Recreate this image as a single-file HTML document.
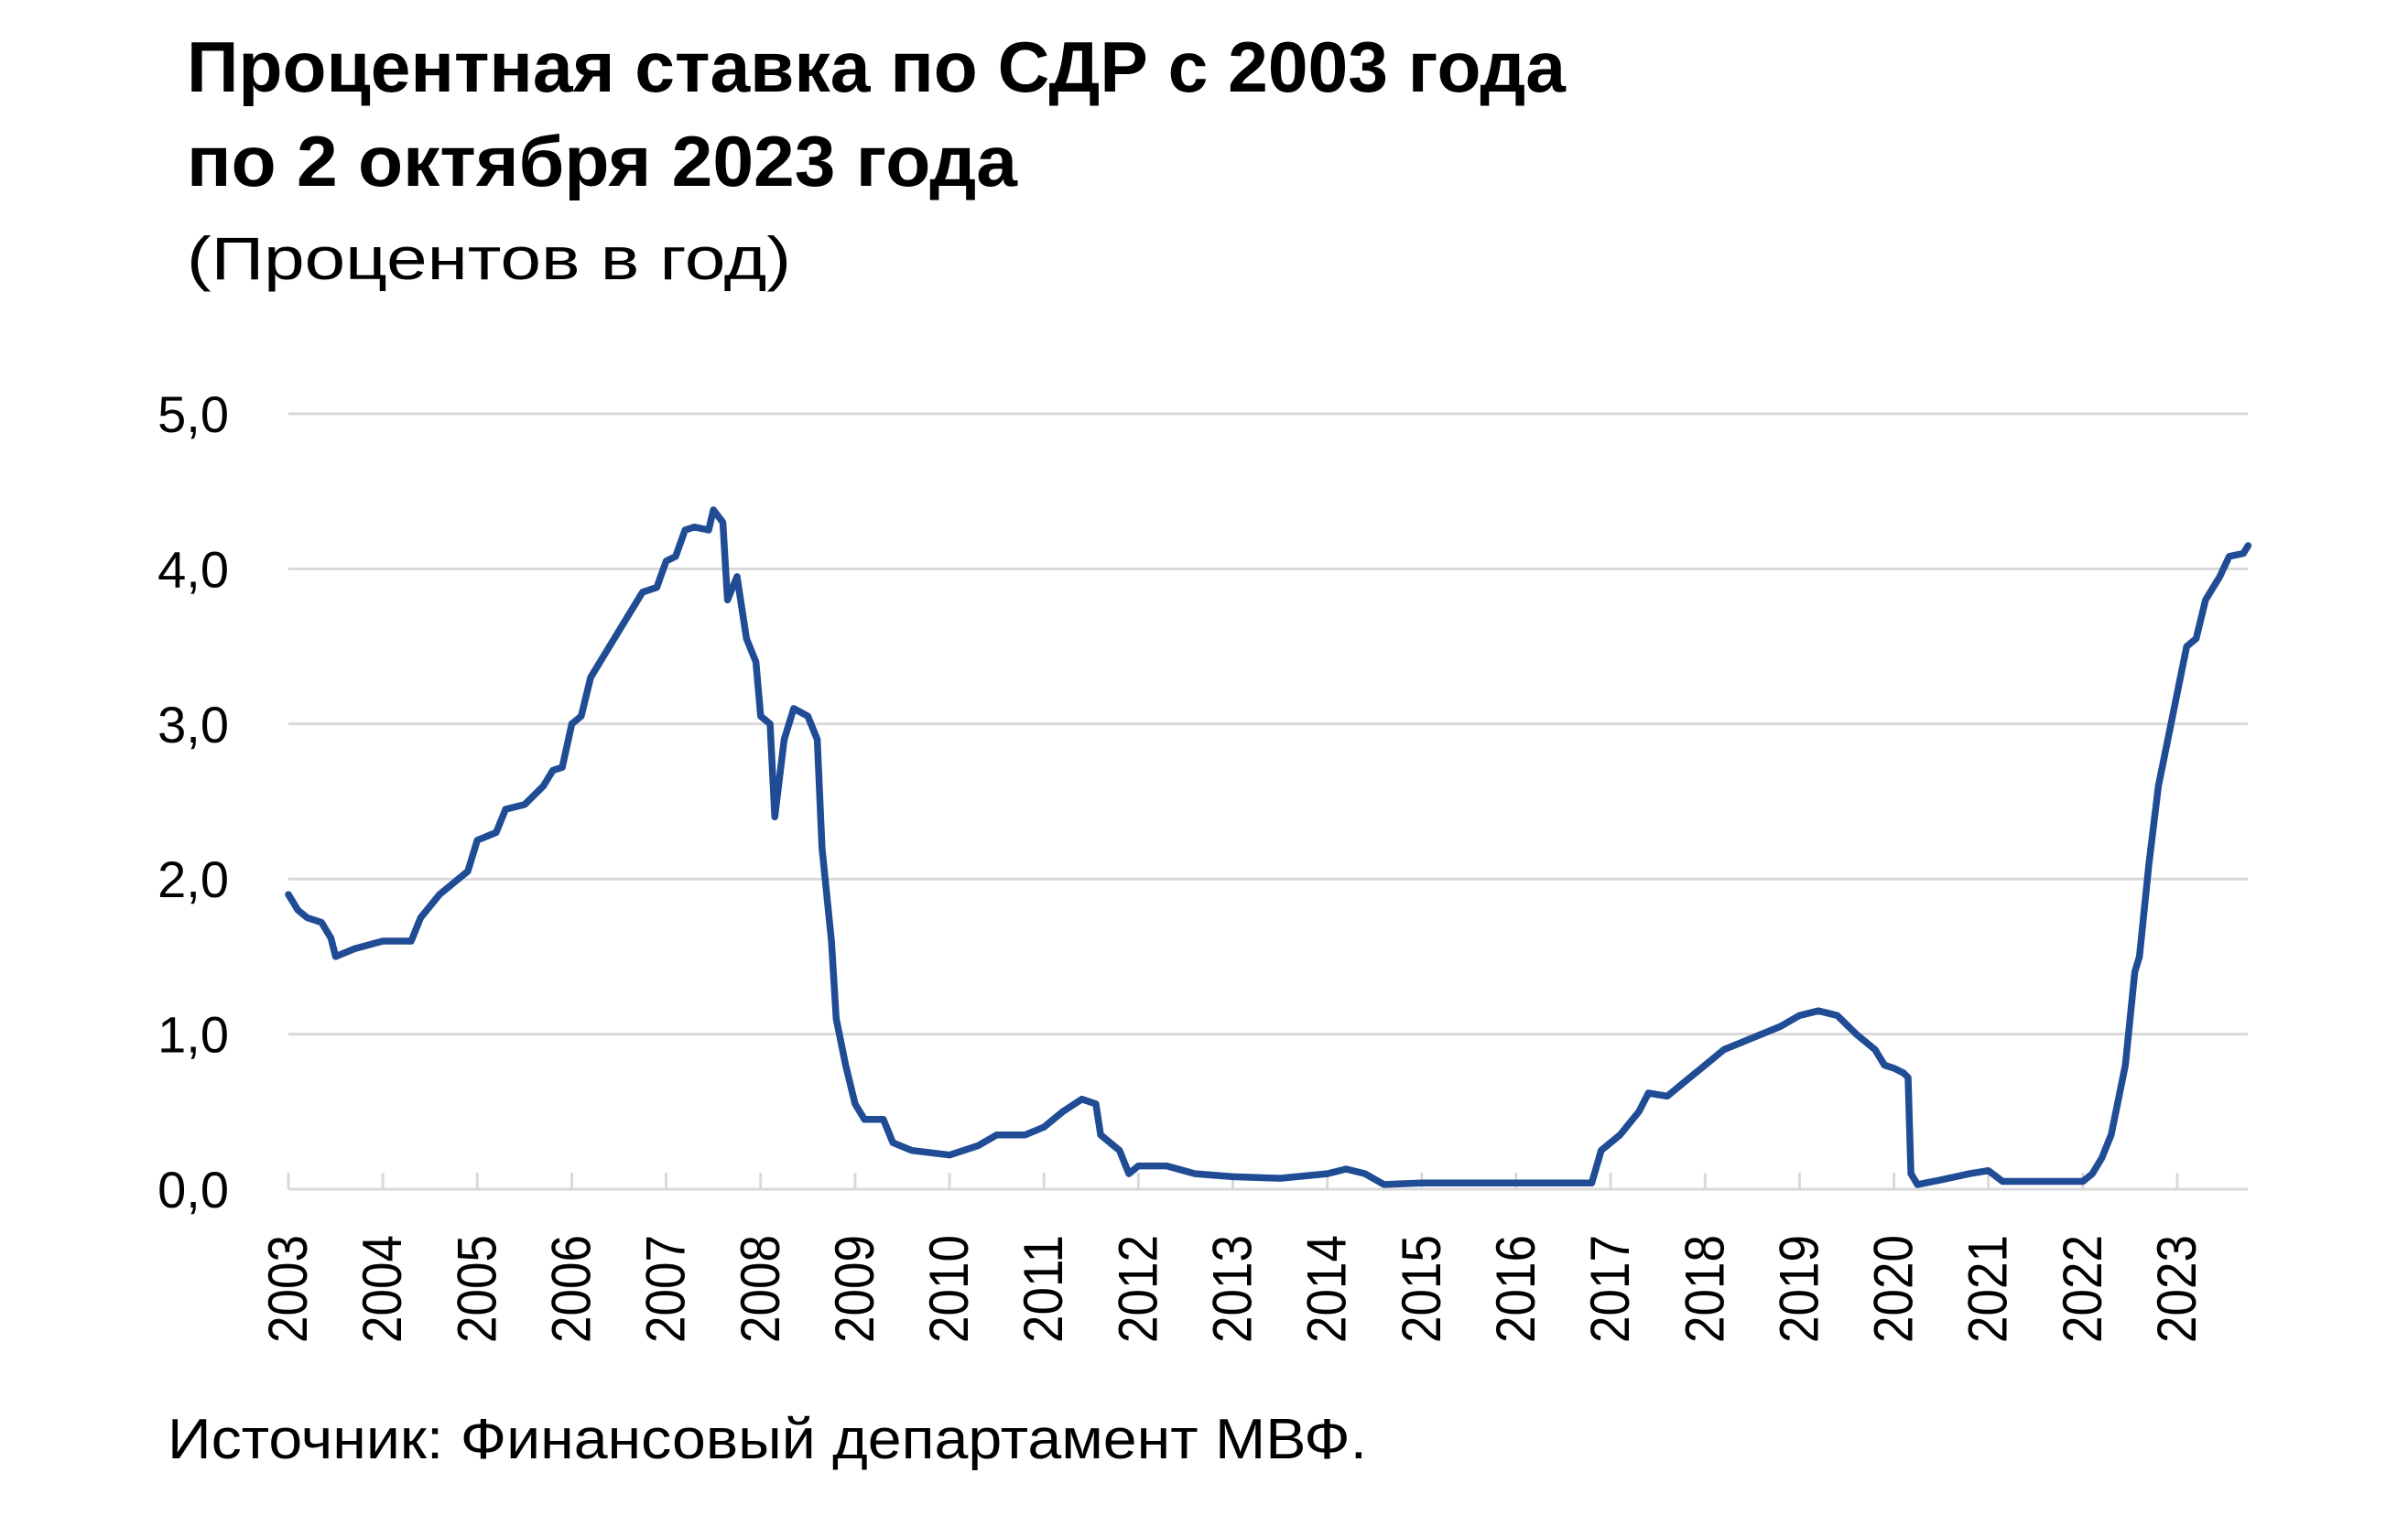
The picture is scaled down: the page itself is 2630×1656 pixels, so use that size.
<!DOCTYPE html>
<html><head><meta charset="utf-8"><style>
html,body{margin:0;padding:0;background:#fff;}
svg{display:block;}
text{font-family:"Liberation Sans","Noto Sans CJK SC",sans-serif;fill:#000;}
</style></head><body>
<svg id="s" width="2630" height="1656" viewBox="0 0 2630 1656" xmlns="http://www.w3.org/2000/svg">
<text x="204" y="100" font-size="78" font-weight="bold" textLength="1506" lengthAdjust="spacingAndGlyphs">Процентная ставка по СДР с 2003 года</text>
<text x="204" y="203" font-size="78" font-weight="bold" textLength="907" lengthAdjust="spacingAndGlyphs">по 2 октября 2023 года</text>
<text x="204" y="305" font-size="66" textLength="660" lengthAdjust="spacingAndGlyphs">(Процентов в год)</text>
<text x="183" y="1593" font-size="62" textLength="1310" lengthAdjust="spacingAndGlyphs">Источник: Финансовый департамент МВФ.</text>
<g id="grid"></g>
<path id="line" fill="none" stroke="#1f4c94" stroke-width="7.5" stroke-linejoin="round" stroke-linecap="round"/>
</svg>
<script>
var X0=315,XS=103.15,Y0=1299,YS=169.4,XE=2455;
var g=document.getElementById('grid'),h='';
for(var i=0;i<=5;i++){var y=Y0-i*YS;
h+='<line x1="'+X0+'" x2="'+XE+'" y1="'+y+'" y2="'+y+'" stroke="#d9d9d9" stroke-width="3"/>';
h+='<text x="250" y="'+(y+20)+'" font-size="56" text-anchor="end">'+i+',0</text>';}
for(var k=0;k<=20;k++){var x=X0+k*XS;
h+='<line x1="'+x+'" x2="'+x+'" y1="'+(Y0-18)+'" y2="'+Y0+'" stroke="#d9d9d9" stroke-width="3"/>';
h+='<text transform="translate('+(x+20)+',1467) rotate(-90)" font-size="60" textLength="118" lengthAdjust="spacingAndGlyphs">'+(2003+k)+'</text>';}
g.innerHTML=h;
var d=[2003.0,1.9,2003.1,1.8,2003.2,1.75,2003.35,1.72,2003.45,1.62,2003.5,1.5,2003.7,1.55,2004.0,1.6,2004.3,1.6,2004.4,1.75,2004.6,1.9,2004.9,2.05,2005.0,2.25,2005.2,2.3,2005.3,2.45,2005.5,2.48,2005.7,2.6,2005.8,2.7,2005.9,2.72,2006.0,3.0,2006.1,3.05,2006.2,3.3,2006.4,3.5,2006.6,3.7,2006.75,3.85,2006.9,3.88,2007.0,4.05,2007.1,4.08,2007.2,4.25,2007.3,4.27,2007.45,4.25,2007.5,4.38,2007.6,4.3,2007.65,3.8,2007.75,3.95,2007.85,3.55,2007.95,3.4,2008.0,3.05,2008.1,3.0,2008.15,2.4,2008.25,2.9,2008.35,3.1,2008.5,3.05,2008.6,2.9,2008.65,2.2,2008.75,1.6,2008.8,1.1,2008.9,0.8,2009.0,0.55,2009.1,0.45,2009.3,0.45,2009.4,0.3,2009.6,0.25,2010.0,0.22,2010.3,0.28,2010.5,0.35,2010.8,0.35,2011.0,0.4,2011.2,0.5,2011.4,0.58,2011.55,0.55,2011.6,0.35,2011.8,0.25,2011.9,0.1,2012.0,0.15,2012.3,0.15,2012.6,0.1,2013.0,0.08,2013.5,0.07,2014.0,0.1,2014.2,0.13,2014.4,0.1,2014.6,0.03,2015.0,0.04,2016.0,0.04,2016.8,0.04,2016.9,0.25,2017.1,0.35,2017.3,0.5,2017.4,0.62,2017.6,0.6,2017.8,0.7,2018.0,0.8,2018.2,0.9,2018.4,0.95,2018.6,1.0,2018.8,1.05,2019.0,1.12,2019.2,1.15,2019.4,1.12,2019.6,1.0,2019.8,0.9,2019.9,0.8,2020.0,0.78,2020.1,0.75,2020.15,0.72,2020.18,0.1,2020.25,0.03,2020.5,0.06,2020.8,0.1,2021.0,0.12,2021.15,0.05,2021.3,0.05,2021.8,0.05,2022.0,0.05,2022.1,0.1,2022.2,0.2,2022.3,0.35,2022.45,0.8,2022.55,1.4,2022.6,1.5,2022.7,2.1,2022.8,2.6,2022.9,2.9,2023.0,3.2,2023.1,3.5,2023.2,3.55,2023.3,3.8,2023.45,3.95,2023.55,4.08,2023.7,4.1,2023.75,4.15];
var p='';for(var j=0;j<d.length;j+=2){p+=(j?'L':'M')+(X0+(d[j]-2003)*XS).toFixed(1)+','+(Y0-d[j+1]*YS).toFixed(1);}
document.getElementById('line').setAttribute('d',p);
</script>
</body></html>
